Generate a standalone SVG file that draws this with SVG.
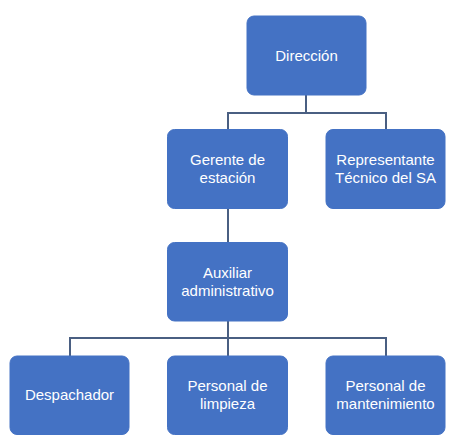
<svg xmlns="http://www.w3.org/2000/svg" width="466" height="445" viewBox="0 0 466 445">
<style>
.box{fill:#4472C4;stroke:#4472C4;stroke-width:1}
.lbl{fill:#FFFFFF;font-family:"Liberation Sans",Arial,sans-serif;font-size:15px;text-anchor:middle}
.conn{fill:none;stroke:#4A5F82;stroke-width:2}
</style>
<rect width="466" height="445" fill="#FFFFFF"/>
<g id="connectors">
<path class="conn" d="M306 95V113M228 129V113H386V129"/>
<path class="conn" d="M228 208V242"/>
<path class="conn" d="M228 321V338M70 356V338H386V356M228 338V356"/>
</g>
<g id="direccion">
<rect class="box" x="247" y="16" width="119" height="79" rx="7"/>
<text class="lbl" x="306.5" y="60.5">Dirección</text>
</g>
<g id="gerente">
<rect class="box" x="167.5" y="129.5" width="120" height="79" rx="7"/>
<text class="lbl" x="227.5" y="165">Gerente de</text>
<text class="lbl" x="227.5" y="183">estación</text>
</g>
<g id="representante">
<rect class="box" x="326" y="129.5" width="119" height="79" rx="7"/>
<text class="lbl" x="385.5" y="165">Representante</text>
<text class="lbl" x="385.5" y="183">Técnico del SA</text>
</g>
<g id="auxiliar">
<rect class="box" x="167.5" y="242.5" width="120" height="78.5" rx="7"/>
<text class="lbl" x="227.5" y="278">Auxiliar</text>
<text class="lbl" x="227.5" y="296">administrativo</text>
</g>
<g id="despachador">
<rect class="box" x="10" y="356" width="119" height="78.5" rx="7"/>
<text class="lbl" x="69.5" y="400">Despachador</text>
</g>
<g id="limpieza">
<rect class="box" x="167.5" y="356" width="120" height="78.5" rx="7"/>
<text class="lbl" x="227.5" y="391">Personal de</text>
<text class="lbl" x="227.5" y="409">limpieza</text>
</g>
<g id="mantenimiento">
<rect class="box" x="326" y="356" width="119" height="78.5" rx="7"/>
<text class="lbl" x="385.5" y="391">Personal de</text>
<text class="lbl" x="385.5" y="409">mantenimiento</text>
</g>
</svg>
